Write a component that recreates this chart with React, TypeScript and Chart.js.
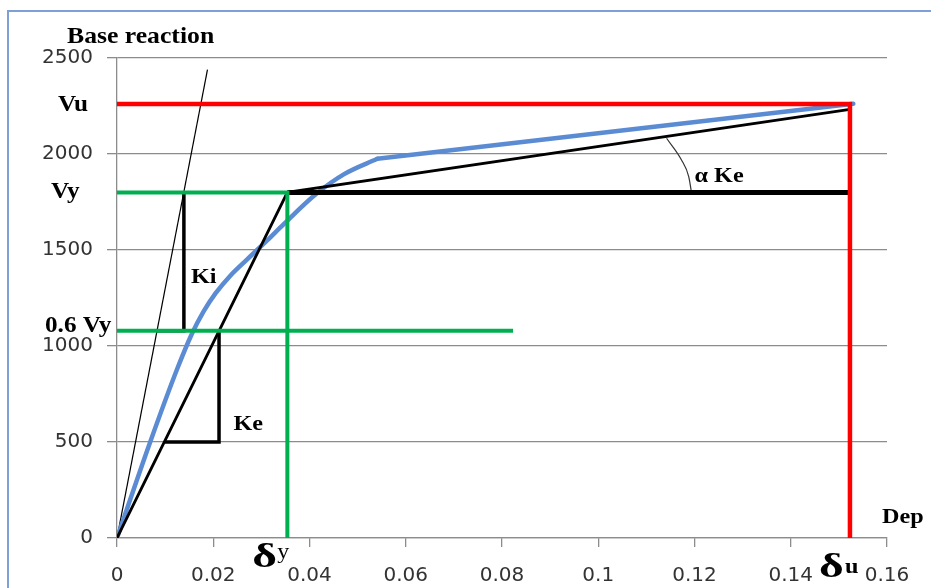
import React, { useEffect, useRef } from 'react';
import { Chart, registerables } from 'chart.js';

Chart.register(...registerables);

// ---- data ----
const xTickLabels = ['0', '0.02', '0.04', '0.06', '0.08', '0.1', '0.12', '0.14', '0.16'];
const yTickValues = [0, 500, 1000, 1500, 2000, 2500];

const Vu = 2260;
const Vy = 1800;
const Vy06 = 1080;
const deltaY = 0.0354;
const deltaU = 0.1523;
const greenEnd = 0.0823;
const bilinearEndY = 2232;

// capacity (pushover) curve: curved part up to the knee
const curveX = [0, 0.0069, 0.0125, 0.0155, 0.018, 0.0205, 0.0235, 0.027, 0.0312, 0.0347, 0.0413, 0.0472, 0.0541];
const curveY = [0, 500, 880, 1060, 1180, 1275, 1365, 1450, 1550, 1636, 1790, 1895, 1975];
// capacity curve: straight post-knee branch
const tailX = [0.0541, 0.153];
const tailY = [1975, 2262];

// initial stiffness tangent line
const kiLineX = [0, 0.0188];
const kiLineY = [0, 2440];

// Ki triangle
const kiTriX = [0.0083, 0.0139, 0.0139];
const kiTriY = [Vy06, Vy06, Vy];

// Ke triangle
const keTriX = [0.0098, 0.0212, 0.0212];
const keTriY = [500, 500, Vy06];

// alpha Ke arc
const arcX = [0.1142, 0.1173, 0.1188, 0.1194];
const arcY = [2082, 1969, 1882, 1795];

const pts = (xs: number[], ys: number[]) => xs.map((x, i) => ({ x, y: ys[i] }));

const serif = '"Liberation Serif", "Times New Roman", serif';

function drawText(ctx: CanvasRenderingContext2D, text: string, x: number, y: number, font: string, sx = 1) {
  ctx.save();
  ctx.font = font;
  ctx.fillStyle = '#000';
  ctx.textAlign = 'left';
  ctx.textBaseline = 'alphabetic';
  ctx.translate(x, y);
  ctx.scale(sx, 1);
  ctx.fillText(text, 0, 0);
  ctx.restore();
}

const labelPlugin = {
  id: 'labels',
  afterDraw(chart: any) {
    const ctx = chart.ctx as CanvasRenderingContext2D;
    const xs = chart.scales.x;
    const ys = chart.scales.y;
    const px = (v: number) => xs.getPixelForValue(v);
    const py = (v: number) => ys.getPixelForValue(v);
    const b24 = `bold 24px ${serif}`;
    drawText(ctx, 'Base reaction', 67, 43, b24, 1.07);
    drawText(ctx, 'Vu', 58, py(Vu) + 7, b24, 1.05);
    drawText(ctx, 'Vy', 51, py(Vy) + 6, b24, 1.05);
    drawText(ctx, '0.6 Vy', 45, py(Vy06) + 1, b24, 1.05);
    drawText(ctx, 'Ki', px(0.0139) + 7, py(1330), `bold 22px ${serif}`, 1.1);
    drawText(ctx, 'Ke', px(0.0242), py(562), `bold 22px ${serif}`, 1.1);
    drawText(ctx, 'α Ke', px(0.12), py(1854), `bold 22px ${serif}`, 1.1);
    drawText(ctx, 'Dep', 882, 523, `bold 22px ${serif}`, 1.1);
    drawText(ctx, 'δ', px(deltaY) - 35, 567, `bold 34px ${serif}`, 1.4);
    drawText(ctx, 'y', px(deltaY) - 10, 558, `20px ${serif}`, 1.2);
    drawText(ctx, 'δ', px(deltaU) - 31, 577, `bold 34px ${serif}`, 1.4);
    drawText(ctx, 'u', px(deltaU) - 5, 573, `bold 22px ${serif}`, 1.1);
  },
};

export default function App() {
  const ref = useRef<HTMLCanvasElement | null>(null);

  useEffect(() => {
    if (!ref.current) return;
    const red = '#ff0000';
    const green = '#00b050';
    const blue = '#5b8cd3';
    const black = '#000000';
    const line = (data: any[], color: string, width: number, extra: any = {}) => ({
      data,
      borderColor: color,
      backgroundColor: color,
      borderWidth: width,
      pointRadius: 0,
      showLine: true,
      fill: false,
      tension: 0,
      borderCapStyle: 'butt',
      borderJoinStyle: 'miter',
      ...extra,
    });
    const chart = new Chart(ref.current, {
      type: 'scatter',
      data: {
        datasets: [
          line(pts([0, deltaU, deltaU], [Vu, Vu, 0]), red, 4.5),
          line(pts([0, deltaY, deltaY], [Vy, Vy, 0]), green, 4),
          line(pts([0, greenEnd], [Vy06, Vy06]), green, 4),
          line(pts(kiTriX, kiTriY), black, 3.5),
          line(pts(keTriX, keTriY), black, 3.5),
          line(pts([deltaY, deltaU], [Vy, Vy]), black, 5),
          line(pts([0, deltaY, deltaU], [0, Vy, bilinearEndY]), black, 2.8),
          line(pts(curveX, curveY), blue, 4.5, { cubicInterpolationMode: 'monotone', borderCapStyle: 'round', borderJoinStyle: 'round' }),
          line(pts(tailX, tailY), blue, 4.5, { borderCapStyle: 'round' }),
          line(pts(kiLineX, kiLineY), black, 1.2),
          line(pts(arcX, arcY), '#333', 1.2, { cubicInterpolationMode: 'monotone' }),
        ],
      },
      options: {
        responsive: false,
        animation: false,
        events: [],
        layout: { padding: { left: 0, top: 58, right: 44, bottom: 0 } },
        plugins: { legend: { display: false }, tooltip: { enabled: false }, title: { display: false } },
        scales: {
          x: {
            type: 'linear',
            min: 0,
            max: 0.16,
            afterBuildTicks: (s: any) => {
              s.ticks = xTickLabels.map((_, i) => ({ value: i * 0.02 }));
            },
            afterFit: (s: any) => {
              s.height = 50;
            },
            ticks: {
              callback: (_v: any, i: number) => xTickLabels[i],
              font: { family: '"DejaVu Sans", sans-serif', size: 20 },
              color: '#333',
              padding: 17,
              maxRotation: 0,
              autoSkip: false,
            },
            grid: { drawOnChartArea: false, drawTicks: true, tickLength: 9, color: '#8c8c8c', lineWidth: 1.3 },
            border: { color: '#8c8c8c', width: 1.3 },
          },
          y: {
            type: 'linear',
            min: 0,
            max: 2500,
            afterBuildTicks: (s: any) => {
              s.ticks = yTickValues.map((v) => ({ value: v }));
            },
            afterFit: (s: any) => {
              s.width = 117;
            },
            ticks: {
              callback: (v: any) => String(v),
              font: { family: '"DejaVu Sans", sans-serif', size: 20 },
              color: '#333',
              padding: 14,
            },
            grid: { color: '#8c8c8c', lineWidth: 1.3, tickLength: 10 },
            border: { color: '#8c8c8c', width: 1.3 },
          },
        },
      } as any,
      plugins: [labelPlugin],
    });
    return () => chart.destroy();
  }, []);

  return (
    <div style={{ position: 'absolute', left: 0, top: 0, width: 931, height: 588, overflow: 'hidden', background: '#fff' }}>
      <canvas ref={ref} width={931} height={588} style={{ display: 'block', width: 931, height: 588 }} />
      <div
        style={{
          position: 'absolute',
          left: 7,
          top: 10,
          width: 1200,
          height: 1200,
          border: '2px solid #7ea0d6',
          pointerEvents: 'none',
        }}
      />
    </div>
  );
}
